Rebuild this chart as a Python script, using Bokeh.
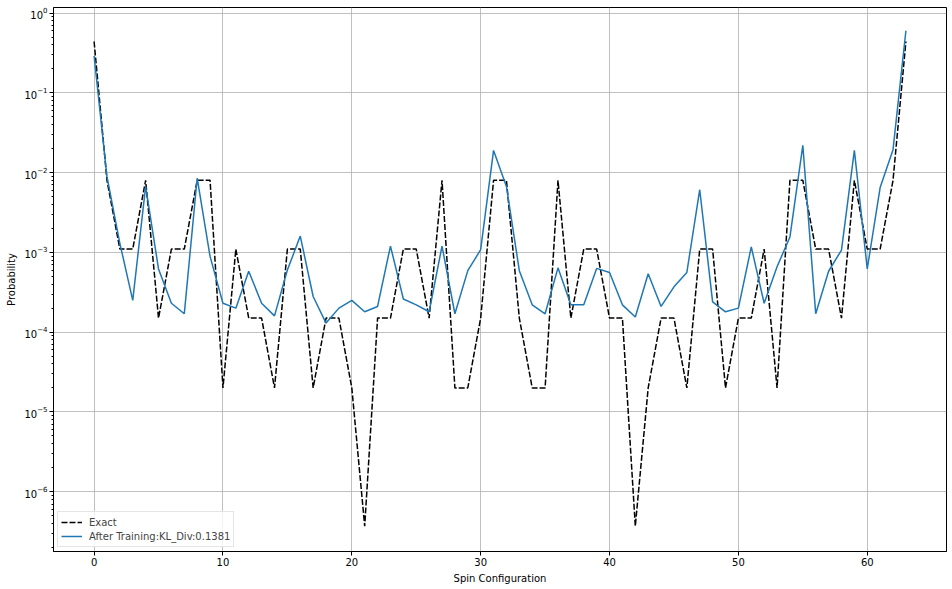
from bokeh.plotting import figure
from bokeh.models import Range1d, FixedTicker, Legend, LegendItem, ColumnDataSource
from bokeh.embed import file_html
from bokeh.resources import INLINE

spin_config = list(range(64))

exact = [0.44, 0.008, 0.0011, 0.0011, 0.008, 0.00015, 0.0011, 0.0011,
         0.008, 0.008, 2e-5, 0.0011, 0.00015, 0.00015, 2e-5, 0.0011,
         0.0011, 2e-5, 0.00015, 0.00015, 2e-5, 3.7e-7, 0.00015, 0.00015,
         0.0011, 0.0011, 0.00015, 0.008, 2e-5, 2e-5, 0.00015, 0.008,
         0.008, 0.00015, 2e-5, 2e-5, 0.008, 0.00015, 0.0011, 0.0011,
         0.00015, 0.00015, 3.7e-7, 2e-5, 0.00015, 0.00015, 2e-5, 0.0011,
         0.0011, 2e-5, 0.00015, 0.00015, 0.0011, 2e-5, 0.008, 0.008,
         0.0011, 0.0011, 0.00015, 0.008, 0.0011, 0.0011, 0.008, 0.44]

trained = [0.29, 0.0089, 0.0013, 0.00025, 0.0067, 0.00062, 0.00023, 0.00017,
           0.0085, 0.00089, 0.00023, 0.0002, 0.00058, 0.00023, 0.00016, 0.0006,
           0.0016, 0.00028, 0.00013, 0.0002, 0.00025, 0.00018, 0.00021, 0.0012,
           0.00026, 0.00022, 0.00018, 0.0012, 0.00017, 0.00059, 0.00108, 0.019,
           0.0067, 0.00059, 0.00022, 0.00017, 0.00064, 0.00022, 0.00022, 0.00063,
           0.00056, 0.00022, 0.000155, 0.00054, 0.00021, 0.00037, 0.00056, 0.0061,
           0.00024, 0.00018, 0.0002, 0.00117, 0.00023, 0.00066, 0.00156, 0.022,
           0.00017, 0.00058, 0.00107, 0.019, 0.00062, 0.0065, 0.0194, 0.60]

y_major = [1e-6, 1e-5, 1e-4, 1e-3, 1e-2, 1e-1, 1.0]
x_major = [0, 10, 20, 30, 40, 50, 60]

FONT = "DejaVu Sans"

p = figure(width=952, height=589, y_axis_type="log",
           x_range=Range1d(-3.15, 66.15),
           y_range=Range1d(10 ** -6.75, 10 ** 0.07),
           output_backend="svg", toolbar_location=None,
           min_border_left=53, min_border_right=6, min_border_top=7,
           min_border_bottom=38)

src = ColumnDataSource(dict(x=spin_config, exact=exact, trained=trained))
r1 = p.line("x", "exact", source=src, line_color="black", line_width=1.5,
            line_dash="6 2")
r2 = p.line("x", "trained", source=src, line_color="#1f77b4", line_width=1.5)

minor = []
for e in range(-7, 1):
    for m in range(2, 10):
        minor.append(m * 10.0 ** e)

p.yaxis.ticker = FixedTicker(ticks=y_major, minor_ticks=minor)
p.xaxis.ticker = FixedTicker(ticks=x_major)
p.ygrid.ticker = FixedTicker(ticks=y_major)
p.xgrid.ticker = FixedTicker(ticks=x_major)

for g in (p.xgrid, p.ygrid):
    g.grid_line_color = "#b0b0b0"
    g.grid_line_width = 0.8

for ax in (p.xaxis, p.yaxis):
    ax.major_label_text_font = FONT
    ax.major_label_text_font_size = "10px"
    ax.major_label_text_color = "black"
    ax.axis_label_text_font = FONT
    ax.axis_label_text_font_size = "10px"
    ax.axis_label_text_font_style = "normal"
    ax.axis_label_text_color = "black"
    ax.axis_line_color = "black"
    ax.major_tick_line_color = "black"
    ax.minor_tick_line_color = "black"
    ax.major_tick_in = 0
    ax.major_tick_out = 4
    ax.minor_tick_in = 0
    ax.minor_tick_out = 2
    ax.major_label_standoff = 2
    ax.axis_label_standoff = 4

p.xaxis.minor_tick_line_color = None
p.xaxis.axis_label = "Spin Configuration"
p.yaxis.axis_label = "Probability"

p.outline_line_color = "black"
p.outline_line_width = 1

legend = Legend(items=[LegendItem(label="Exact", renderers=[r1]),
                       LegendItem(label="After Training:KL_Div:0.1381", renderers=[r2])],
                location="bottom_left")
legend.label_text_font = FONT
legend.label_text_font_size = "10px"
legend.border_line_color = "#cccccc"
legend.border_line_width = 1
legend.background_fill_alpha = 0.8
legend.margin = 4
legend.padding = 3
legend.spacing = 0
legend.glyph_width = 21
legend.glyph_height = 14
legend.label_height = 14
legend.label_standoff = 7
p.add_layout(legend)

open("out.html", "w").write(file_html(p, INLINE))
